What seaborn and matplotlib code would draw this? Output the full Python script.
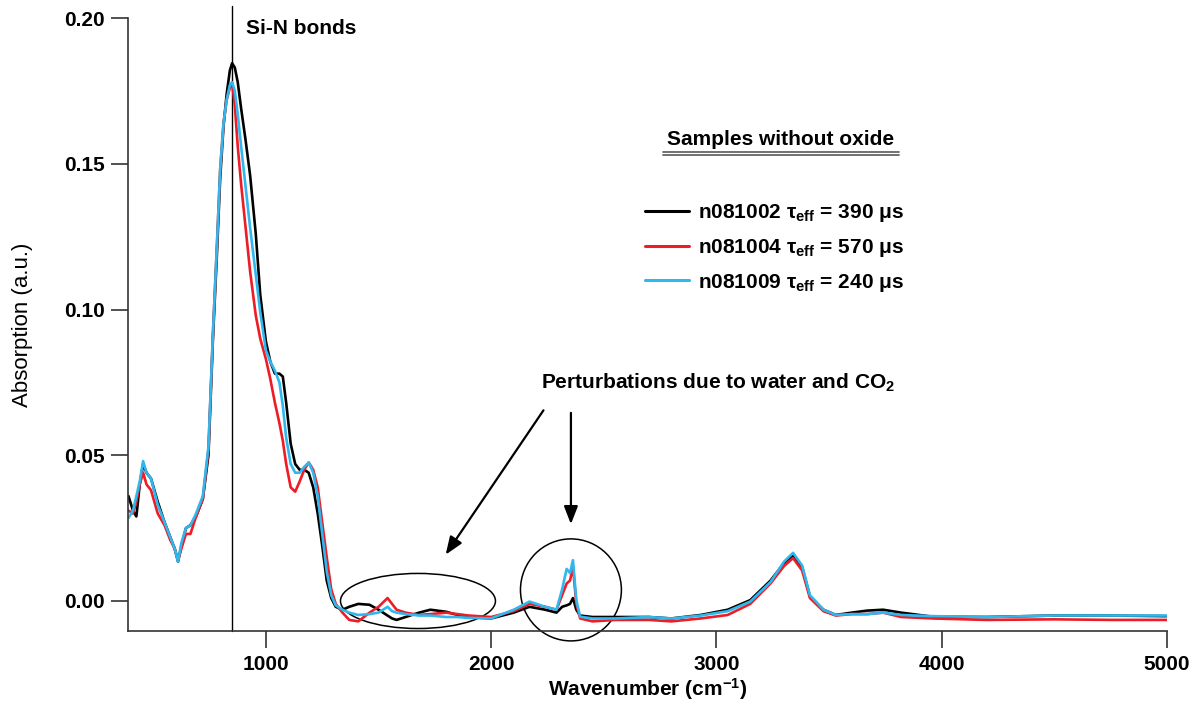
import matplotlib
matplotlib.use("Agg")
import matplotlib.pyplot as plt
from matplotlib.patches import Ellipse
from matplotlib.lines import Line2D
import seaborn as sns
import pandas as pd

# ---------------- data ----------------
wavenumber = [390, 410, 425, 440, 455, 470, 490, 520, 550, 575, 595, 610, 625, 645, 665, 690,
              720, 745, 765, 782, 797, 812, 826, 840, 850, 862, 875, 890, 910, 930, 955, 975,
              1000, 1020, 1040, 1060, 1075, 1090, 1110, 1130, 1150, 1170, 1190, 1210, 1230, 1250,
              1270, 1290, 1310, 1340, 1370, 1410, 1460, 1500, 1540, 1560, 1580, 1620, 1680, 1730,
              1800, 1850, 1900, 2000, 2100, 2170, 2240, 2290, 2315, 2335, 2350, 2363, 2378, 2395,
              2450, 2550, 2700, 2800, 2930, 3050, 3150, 3240, 3300, 3340, 3380, 3415, 3475, 3530,
              3600, 3670, 3740, 3820, 3960, 4200, 4500, 4750, 5000]

n081002 = [0.036, 0.031, 0.029, 0.040, 0.047, 0.044, 0.042, 0.034, 0.027, 0.022, 0.018, 0.0135, 0.019, 0.025, 0.026, 0.029,
           0.035, 0.050, 0.090, 0.118, 0.145, 0.163, 0.174, 0.182, 0.1845, 0.183, 0.178, 0.169, 0.158, 0.146, 0.126, 0.105,
           0.089, 0.082, 0.078, 0.078, 0.077, 0.068, 0.054, 0.047, 0.045, 0.045, 0.044, 0.039, 0.030, 0.019,
           0.007, 0.001, -0.002, -0.003, -0.002, -0.001, -0.0013, -0.003, -0.005, -0.006, -0.0065, -0.0055, -0.004, -0.003,
           -0.0037, -0.0048, -0.0055, -0.006, -0.004, -0.002, -0.003, -0.004, -0.002, -0.0015, -0.001, 0.001, -0.003, -0.005,
           -0.0055, -0.0055, -0.0055, -0.006, -0.0048, -0.003, 0.0003, 0.007, 0.013, 0.0158, 0.0118, 0.0015, -0.003, -0.0048,
           -0.004, -0.0033, -0.003, -0.004, -0.0054, -0.0055, -0.005, -0.005, -0.0052]

n081004 = [0.031, 0.030, 0.034, 0.040, 0.044, 0.040, 0.038, 0.030, 0.026, 0.021, 0.018, 0.014, 0.018, 0.023, 0.023, 0.029,
           0.035, 0.052, 0.092, 0.121, 0.148, 0.164, 0.172, 0.176, 0.1775, 0.170, 0.156, 0.143, 0.128, 0.113, 0.098, 0.090,
           0.083, 0.076, 0.068, 0.061, 0.055, 0.047, 0.039, 0.0375, 0.041, 0.045, 0.0475, 0.045, 0.039, 0.027,
           0.015, 0.004, -0.001, -0.004, -0.0065, -0.007, -0.004, -0.002, 0.001, -0.001, -0.003, -0.004, -0.0048, -0.0045,
           -0.004, -0.0045, -0.005, -0.0055, -0.0035, -0.001, -0.002, -0.003, 0.002, 0.006, 0.007, 0.0118, -0.001, -0.006,
           -0.007, -0.0065, -0.0065, -0.007, -0.006, -0.0048, -0.001, 0.006, 0.012, 0.0147, 0.0105, 0.001, -0.0035, -0.005,
           -0.0045, -0.0045, -0.004, -0.0055, -0.006, -0.0065, -0.0063, -0.0065, -0.0065]

n081009 = [0.0285, 0.031, 0.036, 0.041, 0.048, 0.044, 0.042, 0.033, 0.027, 0.022, 0.018, 0.0135, 0.020, 0.025, 0.026, 0.030,
           0.036, 0.053, 0.092, 0.121, 0.148, 0.164, 0.172, 0.177, 0.178, 0.175, 0.167, 0.156, 0.142, 0.128, 0.112, 0.099,
           0.086, 0.082, 0.079, 0.075, 0.067, 0.056, 0.047, 0.044, 0.044, 0.046, 0.0475, 0.044, 0.036, 0.023,
           0.010, 0.002, -0.0015, -0.003, -0.004, -0.0048, -0.0045, -0.004, -0.002, -0.0035, -0.004, -0.0045, -0.005, -0.005,
           -0.0055, -0.0055, -0.0058, -0.006, -0.003, -0.0002, -0.002, -0.003, 0.004, 0.011, 0.0096, 0.014, 0.0003, -0.0054,
           -0.006, -0.006, -0.0055, -0.006, -0.005, -0.0035, -0.0002, 0.0065, 0.0135, 0.0165, 0.0122, 0.002, -0.003, -0.0048,
           -0.0045, -0.0045, -0.004, -0.0048, -0.0052, -0.0055, -0.005, -0.005, -0.005]

sample_names = ["n081002", "n081004", "n081009"]
tau_eff = [390, 570, 240]
colors = ["#000000", "#ee1c24", "#2fb7ee"]

x_ticks = [1000, 2000, 3000, 4000, 5000]
y_ticks = [0.00, 0.05, 0.10, 0.15, 0.20]
si_n_position = 850

# ---------------- build long-form table ----------------
frames = []
for name, vals in zip(sample_names, [n081002, n081004, n081009]):
    frames.append(pd.DataFrame({"Wavenumber": wavenumber, "Absorption": vals, "Sample": name}))
df = pd.concat(frames, ignore_index=True)

# ---------------- style ----------------
sns.set_theme(style="ticks")
plt.rcParams["font.family"] = ["Liberation Sans", "DejaVu Sans"]
plt.rcParams["mathtext.fontset"] = "custom"
plt.rcParams["mathtext.rm"] = "Liberation Sans"
plt.rcParams["mathtext.bf"] = "Liberation Sans:bold"
plt.rcParams["mathtext.it"] = "Liberation Sans:italic"
plt.rcParams["text.color"] = "black"
plt.rcParams["axes.labelcolor"] = "black"
plt.rcParams["xtick.labelcolor"] = "black"
plt.rcParams["ytick.labelcolor"] = "black"

fig = plt.figure(figsize=(12.01, 7.07), dpi=100)
ax = fig.add_axes([0.1066, 0.1075, 0.8651, 0.867])

sns.lineplot(data=df, x="Wavenumber", y="Absorption", hue="Sample",
             palette=dict(zip(sample_names, colors)), hue_order=sample_names,
             sort=False, estimator=None, linewidth=1.9, legend=False, ax=ax)

ax.set_xlim(388, 5000)
ax.set_ylim(-0.0103, 0.2000)
ax.set_xticks(x_ticks)
ax.set_yticks(y_ticks)
ax.set_xticklabels([f"{t}" for t in x_ticks], fontsize=15, fontweight="bold", color="black")
ax.set_yticklabels([f"{t:.2f}" for t in y_ticks], fontsize=15, fontweight="bold", color="black")
ax.tick_params(axis="both", direction="out", length=12, width=1.2, color="#333333", pad=5)

for s in ["top", "right"]:
    ax.spines[s].set_visible(False)
for s in ["left", "bottom"]:
    ax.spines[s].set_color("#333333")
    ax.spines[s].set_linewidth(1.2)

ax.set_xlabel(r"Wavenumber (cm$^{\mathbf{-1}}$)", fontsize=15, fontweight="bold", labelpad=2, color="black")
ax.set_ylabel("Absorption (a.u.)", fontsize=16, labelpad=22, color="black")

# Si-N vertical line and label
ax.axvline(si_n_position, ymin=0, ymax=1.02, color="black", linewidth=1.0, clip_on=False, zorder=1)
ax.text(912, 0.1965, "Si-N bonds", fontsize=15, fontweight="bold", ha="left", va="center", color="black")

# Legend
handles = [Line2D([0], [0], color=c, linewidth=2.2) for c in colors]
labels = [rf"{n} τ$_{{\mathbf{{eff}}}}$ = {t} μs" for n, t in zip(sample_names, tau_eff)]
leg = ax.legend(handles, labels, loc="upper left", bbox_to_anchor=(0.4976, 0.700),
                frameon=False, fontsize=15, handlelength=2.1, handletextpad=0.45,
                labelspacing=0.62, borderpad=0, borderaxespad=0)
for t in leg.get_texts():
    t.set_fontweight("bold")
    t.set_color("black")

ax.text(0.6285, 0.8026, "Samples without oxide", transform=ax.transAxes,
        fontsize=15, fontweight="bold", ha="center", va="center", color="black")
for yy in (0.7814, 0.7759):
    ax.add_line(Line2D([0.515, 0.742], [yy, yy], transform=ax.transAxes,
                       color="#666666", linewidth=1.3))

# Perturbation annotation
ax.text(3007, 0.0748, r"Perturbations due to water and CO$_{\mathbf{2}}$",
        fontsize=15, fontweight="bold", ha="center", va="center", color="black")
arrow_kw = dict(arrowstyle="-|>,head_length=0.9,head_width=0.35", color="black", lw=1.6)
ax.annotate("", xy=(1791, 0.0151), xytext=(2239, 0.0662), arrowprops=arrow_kw)
ax.annotate("", xy=(2354, 0.0254), xytext=(2354, 0.0655), arrowprops=arrow_kw)

ax.add_patch(Ellipse((1675, 0.0), 688, 0.0189, fill=False, edgecolor="black", linewidth=1.1, clip_on=False))
ax.add_patch(Ellipse((2354, 0.0038), 448, 0.035, fill=False, edgecolor="black", linewidth=1.1, clip_on=False))

fig.savefig("out.png", dpi=100)
